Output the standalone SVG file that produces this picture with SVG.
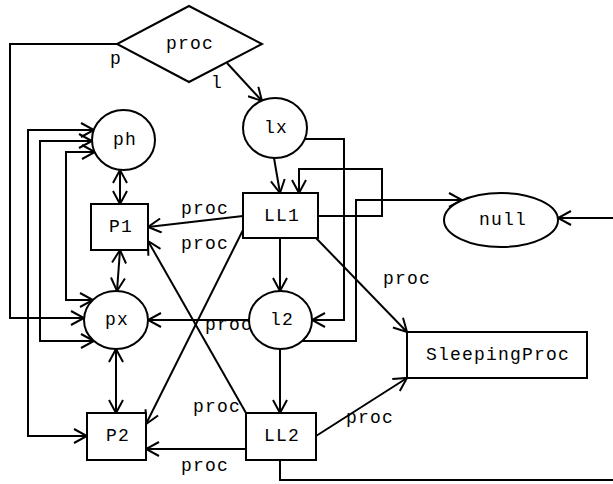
<svg xmlns="http://www.w3.org/2000/svg" width="613" height="484" viewBox="0 0 613 484">
<style>
.n{fill:#fff;stroke:#000;stroke-width:2}
.c{fill:none;stroke:#000;stroke-width:2}
.a{marker-end:url(#ah)}
.b{marker-start:url(#ah);marker-end:url(#ah)}
text{font-family:"Liberation Mono","DejaVu Sans Mono",monospace;font-size:18px;letter-spacing:1.2px;text-anchor:middle;fill:#000}
</style>
<defs>
<marker id="ah" viewBox="0 0 16 16" refX="14" refY="8" markerWidth="16" markerHeight="16" markerUnits="userSpaceOnUse" orient="auto-start-reverse">
<path d="M1,1 L14,8 L1,15" fill="none" stroke="#000" stroke-width="2"/>
</marker>
</defs>
<rect width="613" height="484" fill="#fff"/>
<g id="connectors">
<path class="c a" d="M117,44 H10 V318 H84"/>
<text x="116" y="64">p</text>
<path class="c a" d="M227,63 L262,101"/>
<text x="217" y="88">l</text>
<path class="c b" d="M94,130 H28 V436 H87"/>
<path class="c b" d="M92,141 H40 V341 H94"/>
<path class="c b" d="M95,152 H66 V300 H93"/>
<path class="c b" d="M120,170 L120,204"/>
<path class="c b" d="M120,250 L117,291"/>
<path class="c b" d="M116,349 L116,413"/>
<path class="c a" d="M274,158 L280,193"/>
<path class="c a" d="M318,216 H382 V169 H299 V193"/>
<path class="c a" d="M305,139 H344 V320 H312"/>
<path class="c a" d="M302,341 H356 V200 H462"/>
<path class="c a" d="M613,218 H558"/>
<path class="c" d="M280,460 V480 H613"/>
<path class="c a" d="M243,216 L148,227"/>
<text x="205" y="214">proc</text>
<path class="c a" d="M246,413 L148,241"/>
<text x="205" y="249">proc</text>
<path class="c a" d="M243,230 L146,424"/>
<text x="217" y="412">proc</text>
<path class="c a" d="M249,320 L148,320"/>
<text x="229" y="330">proc</text>
<path class="c a" d="M280,238 V291"/>
<path class="c a" d="M280,349 V413"/>
<path class="c a" d="M316,238 L407,332"/>
<text x="407" y="284">proc</text>
<path class="c a" d="M316,436 L407,378"/>
<text x="370" y="423">proc</text>
<path class="c a" d="M246,449 L146,449"/>
<text x="205" y="471">proc</text>
</g>
<g id="proc"><polygon class="n" points="189,6 262,44 189,82 117,44"/><text x="190" y="49">proc</text></g>
<g id="lx"><ellipse class="n" cx="275" cy="128" rx="32" ry="30"/><text x="276" y="133">lx</text></g>
<g id="ph"><ellipse class="n" cx="123.5" cy="140" rx="31.5" ry="30"/><text x="125" y="145">ph</text></g>
<g id="P1"><rect class="n" x="91" y="204" width="57" height="46"/><text x="121" y="232">P1</text></g>
<g id="LL1"><rect class="n" x="243" y="193" width="75" height="45"/><text x="282" y="221">LL1</text></g>
<g id="null"><ellipse class="n" cx="501" cy="220" rx="57" ry="27"/><text x="503" y="225">null</text></g>
<g id="px"><ellipse class="n" cx="116" cy="320" rx="32" ry="29"/><text x="117" y="325">px</text></g>
<g id="l2"><ellipse class="n" cx="280.5" cy="320" rx="31.5" ry="29"/><text x="282" y="325">l2</text></g>
<g id="SleepingProc"><rect class="n" x="407" y="332" width="180" height="46"/><text x="498" y="360">SleepingProc</text></g>
<g id="P2"><rect class="n" x="87" y="413" width="59" height="47"/><text x="118" y="441">P2</text></g>
<g id="LL2"><rect class="n" x="246" y="413" width="70" height="47"/><text x="282" y="441">LL2</text></g>
</svg>
